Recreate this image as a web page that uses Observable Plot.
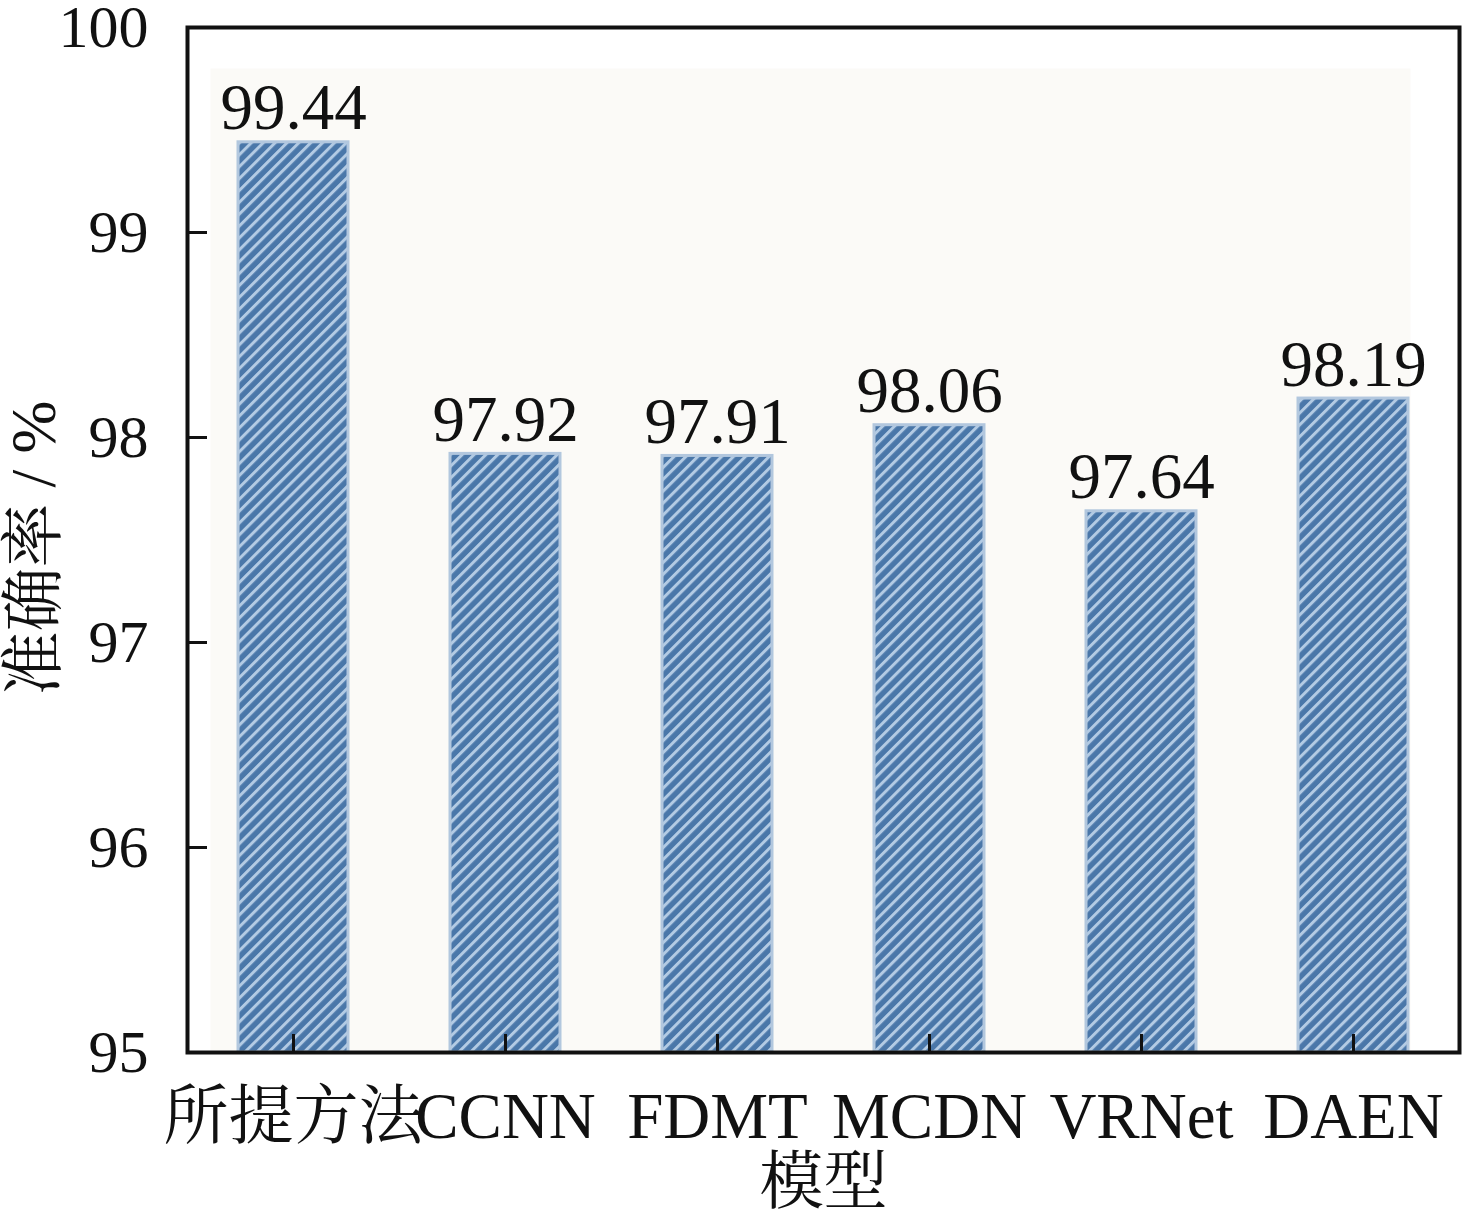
<!DOCTYPE html>
<html>
<head>
<meta charset="utf-8">
<script src="https://cdn.jsdelivr.net/npm/d3@7"></script>
<script src="https://cdn.jsdelivr.net/npm/@observablehq/plot@0.6"></script>
<style>
  html, body { margin: 0; padding: 0; background: #ffffff; }
</style>
</head>
<body>
<div id="chart"></div>
<script>
const models = ["所提方法", "CCNN", "FDMT", "MCDN", "VRNet", "DAEN"];
const accuracy = [99.44, 97.92, 97.91, 98.06, 97.64, 98.19];
const yTicks = [95, 96, 97, 98, 99, 100];
const yBase = 95;
const yTop = 100;
const xLabel = "模型";
const yLabel = "准确率 / %";

const data = models.map((m, i) => ({model: m, value: accuracy[i]}));
const font = '"Liberation Serif", "Times New Roman", "Noto Serif CJK SC", "Noto Sans CJK SC", serif';

const chart = Plot.plot({
  width: 1462,
  height: 1214,
  marginLeft: 187,
  marginRight: 3,
  marginTop: 27,
  marginBottom: 162,
  style: {fontFamily: font, background: "#ffffff", color: "#111"},
  x: {domain: models, paddingInner: 0.483, paddingOuter: 0.233, label: null},
  y: {domain: [yBase, yTop], label: null},
  marks: [
    Plot.frame({fill: "#fbfaf7", stroke: null, insetLeft: 23, insetRight: 49, insetTop: 41, insetBottom: 2}),
    Plot.barY(data, {x: "model", y1: yBase, y2: "value", fill: "url(#hatch)", stroke: "#b2c7de", strokeWidth: 3}),
    Plot.text(data, {x: "model", y: "value", text: d => d.value.toFixed(2), lineAnchor: "bottom", dy: -13, fontSize: 65, fill: "#111"}),
    Plot.axisY({ticks: yTicks, tickSize: -20, tickPadding: 59, strokeWidth: 3, fontSize: 60, tickFormat: d => String(d), stroke: "#111"}),
    Plot.axisX({tickSize: -18, tickPadding: 57, strokeWidth: 3, fontSize: 65, stroke: "#111"}),
    Plot.frame({stroke: "#111", strokeWidth: 4}),
    Plot.text([yLabel], {frameAnchor: "left", textAnchor: "middle", lineAnchor: "middle", text: d => d, dx: -153, dy: 8, rotate: -90, fontSize: 64, fill: "#111"}),
    Plot.text([xLabel], {frameAnchor: "bottom", textAnchor: "middle", lineAnchor: "middle", text: d => d, dy: 130, fontSize: 64, fill: "#111"})
  ]
});

const svg = d3.select(chart);
const defs = svg.insert("defs", ":first-child");
const pat = defs.append("pattern")
  .attr("id", "hatch")
  .attr("patternUnits", "userSpaceOnUse")
  .attr("width", 8.4)
  .attr("height", 8.4)
  .attr("patternTransform", "rotate(45)");
pat.append("rect").attr("width", 8.4).attr("height", 8.4).attr("fill", "#4a77a9");
pat.append("rect").attr("x", 0).attr("width", 3).attr("height", 8.4).attr("fill", "#b3cbe4");

document.getElementById("chart").appendChild(chart);
</script>
</body>
</html>
